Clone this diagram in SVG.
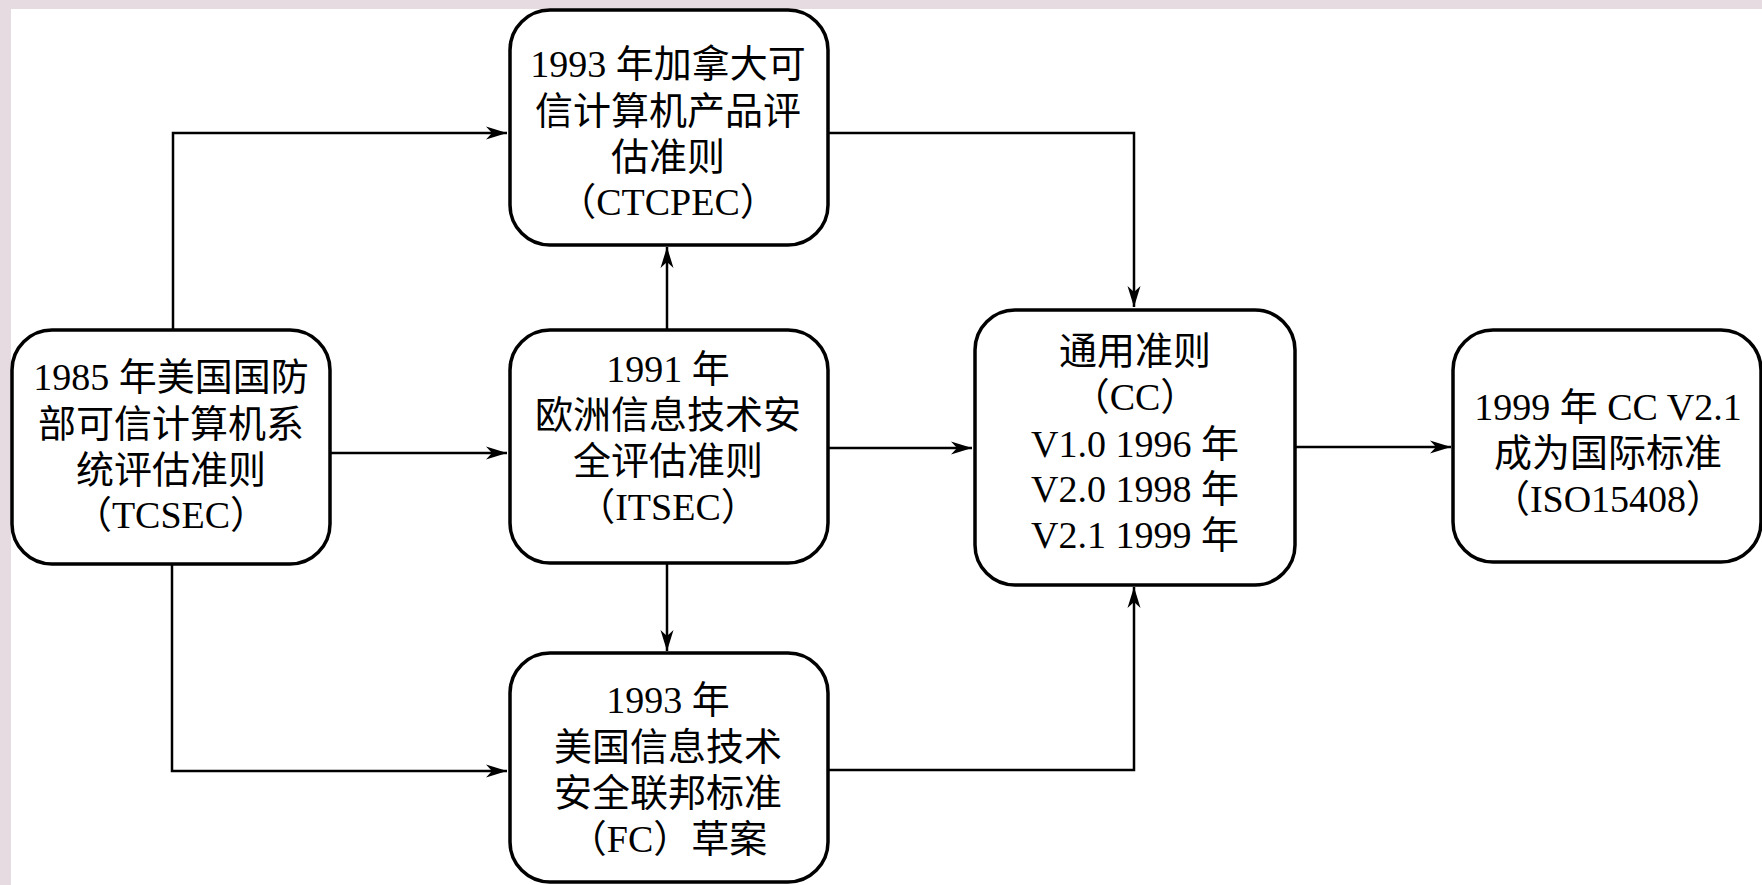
<svg xmlns="http://www.w3.org/2000/svg" width="1762" height="885" viewBox="0 0 1762 885">
<style>
.box{fill:#ffffff;stroke:#000000;stroke-width:3.5}
.conn{fill:none;stroke:#000000;stroke-width:2.5}
text{font-family:"Liberation Serif","Noto Sans CJK SC",serif;font-size:38px;fill:#000000;text-anchor:middle}
</style>
<defs>
<marker id="arr" markerUnits="userSpaceOnUse" markerWidth="24" markerHeight="16" viewBox="-22 -8 24 16" refX="0" refY="0" orient="auto">
<path d="M0,0 L-21,-6.5 L-15,0 L-21,6.5 Z" fill="#000000"/>
</marker>
</defs>
<rect x="0" y="0" width="1762" height="885" fill="#e6dbe0"/>
<rect x="11" y="9" width="1751" height="876" fill="#ffffff"/>
<g id="connectors">
<path class="conn" d="M173,330 V133 H507" marker-end="url(#arr)"/>
<path class="conn" d="M667,330 V247" marker-end="url(#arr)"/>
<path class="conn" d="M330,453 H507" marker-end="url(#arr)"/>
<path class="conn" d="M172,564 V771 H507" marker-end="url(#arr)"/>
<path class="conn" d="M667,563 V651" marker-end="url(#arr)"/>
<path class="conn" d="M828,133 H1134 V307" marker-end="url(#arr)"/>
<path class="conn" d="M828,448 H972" marker-end="url(#arr)"/>
<path class="conn" d="M828,770 H1134 V587" marker-end="url(#arr)"/>
<path class="conn" d="M1295,447 H1451" marker-end="url(#arr)"/>
</g>
<g id="ctcpec">
<rect class="box" x="510" y="10" width="318" height="235" rx="40"/>
<text x="668" y="77">1993 年加拿大可</text>
<text x="668" y="124">信计算机产品评</text>
<text x="668" y="170">估准则</text>
<text x="668" y="215">（CTCPEC）</text>
</g>
<g id="tcsec">
<rect class="box" x="12" y="330" width="318" height="234" rx="40"/>
<text x="171" y="390">1985 年美国国防</text>
<text x="171" y="437">部可信计算机系</text>
<text x="171" y="483">统评估准则</text>
<text x="171" y="528">（TCSEC）</text>
</g>
<g id="itsec">
<rect class="box" x="510" y="330" width="318" height="233" rx="40"/>
<text x="668" y="382">1991 年</text>
<text x="668" y="428">欧洲信息技术安</text>
<text x="668" y="474">全评估准则</text>
<text x="668" y="520">（ITSEC）</text>
</g>
<g id="fc">
<rect class="box" x="510" y="653" width="318" height="229" rx="40"/>
<text x="668" y="713">1993 年</text>
<text x="668" y="760">美国信息技术</text>
<text x="668" y="806">安全联邦标准</text>
<text x="668" y="852">（FC）草案</text>
</g>
<g id="cc">
<rect class="box" x="975" y="310" width="320" height="275" rx="40"/>
<text x="1135" y="364">通用准则</text>
<text x="1135" y="410">（CC）</text>
<text x="1135" y="457">V1.0 1996 年</text>
<text x="1135" y="502">V2.0 1998 年</text>
<text x="1135" y="548">V2.1 1999 年</text>
</g>
<g id="iso">
<rect class="box" x="1453" y="330" width="308" height="232" rx="40"/>
<text x="1608" y="420">1999 年 CC V2.1</text>
<text x="1608" y="466">成为国际标准</text>
<text x="1608" y="512">（ISO15408）</text>
</g>
</svg>
